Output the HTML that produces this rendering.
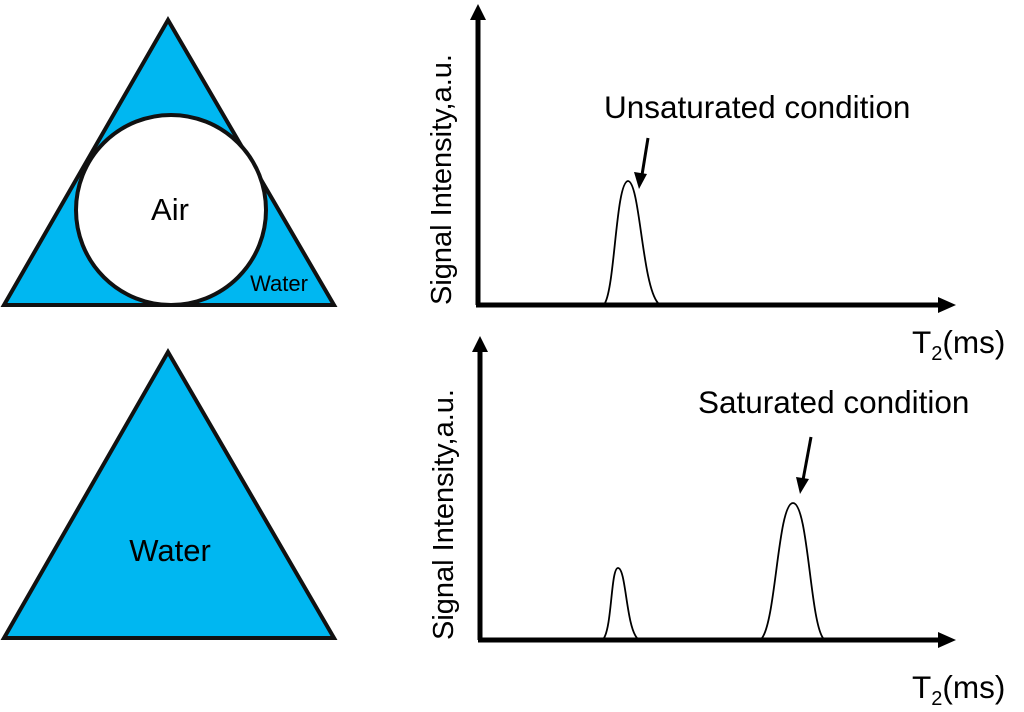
<!DOCTYPE html>
<html><head><meta charset="utf-8"><style>
html,body{margin:0;padding:0;background:#fff;}
svg{display:block;font-family:"Liberation Sans",Arial,sans-serif;}
</style></head><body>
<svg width="1024" height="712" viewBox="0 0 1024 712" xmlns="http://www.w3.org/2000/svg">
<!-- top triangle -->
<polygon points="168,20 4,305 334,305" fill="#00B7F1" stroke="#111" stroke-width="4" stroke-linejoin="miter"/>
<circle cx="171" cy="210" r="95" fill="#fff" stroke="#111" stroke-width="4"/>
<text x="170" y="220" font-size="31" text-anchor="middle">Air</text>
<text x="279" y="291" font-size="22" text-anchor="middle">Water</text>
<!-- bottom triangle -->
<polygon points="168,352 4,638 334,638" fill="#00B7F1" stroke="#111" stroke-width="4"/>
<text x="170" y="561" font-size="31" text-anchor="middle">Water</text>

<!-- graph 1 -->
<line x1="478" y1="305" x2="478" y2="18" stroke="#000" stroke-width="5"/>
<polygon points="478,4 470,20 486,20" fill="#000"/>
<line x1="476" y1="305" x2="940" y2="305" stroke="#000" stroke-width="5"/>
<polygon points="956,305 938,297 938,313" fill="#000"/>
<text transform="translate(451,305) rotate(-90)" font-size="29">Signal Intensity,a.u.</text>
<path d="M605,303 C615,285 616,182 628,181 C640,182 642,285 658,303" fill="none" stroke="#000" stroke-width="1.8"/>
<line x1="648" y1="138" x2="642" y2="175" stroke="#000" stroke-width="3"/>
<polygon points="639,189 634,172 647,174" fill="#000"/>
<text x="604" y="118" font-size="31.5">Unsaturated condition</text>
<text x="912" y="353" font-size="31.5">T<tspan font-size="20" dy="7">2</tspan><tspan dy="-7">(ms)</tspan></text>

<!-- graph 2 -->
<line x1="480" y1="640" x2="480" y2="350" stroke="#000" stroke-width="5"/>
<polygon points="480,336 472,352 488,352" fill="#000"/>
<line x1="478" y1="640" x2="940" y2="640" stroke="#000" stroke-width="5"/>
<polygon points="956,640 938,632 938,648" fill="#000"/>
<text transform="translate(453,640) rotate(-90)" font-size="29">Signal Intensity,a.u.</text>
<path d="M604,638 C612,625 611,568 618,568 C626,568 626,625 637,638" fill="none" stroke="#000" stroke-width="1.8"/>
<path d="M762,638 C776,620 778,503 793,503 C808,503 810,620 823,638" fill="none" stroke="#000" stroke-width="1.8"/>
<line x1="811" y1="437" x2="803" y2="480" stroke="#000" stroke-width="3"/>
<polygon points="800,494 796,477 809,479" fill="#000"/>
<text x="698" y="413" font-size="31.5">Saturated condition</text>
<text x="912" y="698" font-size="31.5">T<tspan font-size="20" dy="7">2</tspan><tspan dy="-7">(ms)</tspan></text>
</svg>
</body></html>
